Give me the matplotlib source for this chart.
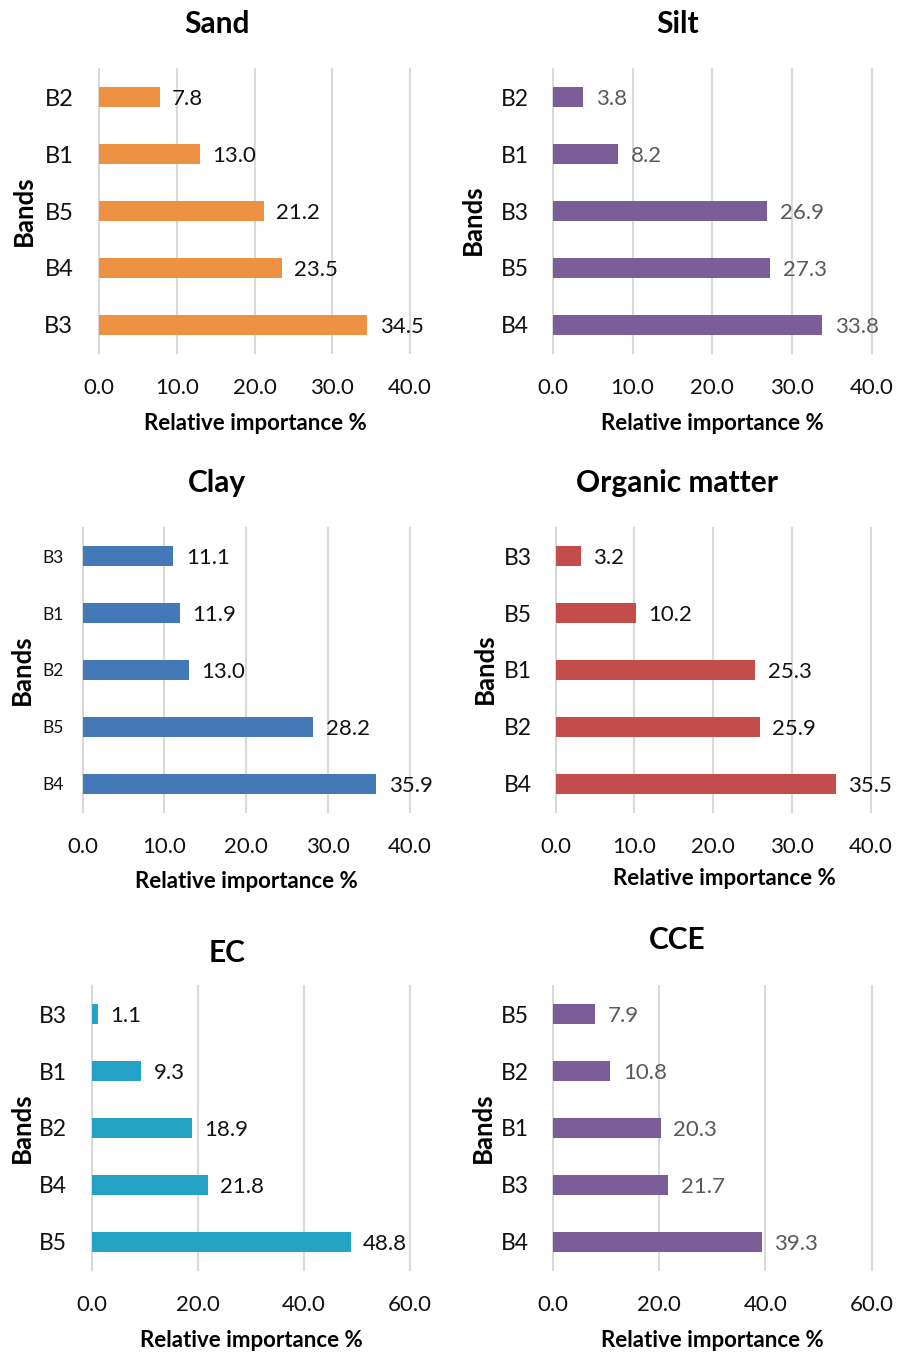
import matplotlib
matplotlib.use("Agg")
import matplotlib.pyplot as plt

plt.rcParams['font.family'] = ['Lato', 'DejaVu Sans']

# relative importance of each Landsat band, listed top to bottom
sand_bands = ["B2", "B1", "B5", "B4", "B3"]
sand_vals = [7.8, 13.0, 21.2, 23.5, 34.5]

silt_bands = ["B2", "B1", "B3", "B5", "B4"]
silt_vals = [3.8, 8.2, 26.9, 27.3, 33.8]

clay_bands = ["B3", "B1", "B2", "B5", "B4"]
clay_vals = [11.1, 11.9, 13.0, 28.2, 35.9]

om_bands = ["B3", "B5", "B1", "B2", "B4"]
om_vals = [3.2, 10.2, 25.3, 25.9, 35.5]

ec_bands = ["B3", "B1", "B2", "B4", "B5"]
ec_vals = [1.1, 9.3, 18.9, 21.8, 48.8]

cce_bands = ["B5", "B2", "B1", "B3", "B4"]
cce_vals = [7.9, 10.8, 20.3, 21.7, 39.3]

W, H = 907, 1354
fig = plt.figure(figsize=(W / 100, H / 100), dpi=100)


def px_axes(x0, x1, top, bottom):
    return fig.add_axes([x0 / W, 1 - bottom / H, (x1 - x0) / W, (bottom - top) / H])


def px_text(x, y, s, **kw):
    fig.text(x / W, 1 - y / H, s, **kw)


panels = [
    # title, bands, values, colour, label colour, xmax, step, axes box, ytick size, ytick pad,
    # title pos, xlabel pos, ylabel pos
    ("Sand", sand_bands, sand_vals, "#ED9243", "#111111", 40, 10, (99, 410, 69, 353), 17, 18.5,
     (216.7, 33.3), (255, 430), (23.5, 211)),
    ("Silt", silt_bands, silt_vals, "#7B5E97", "#595959", 40, 10, (553, 871.5, 69, 353), 16.5, 17.3,
     (677.8, 33.3), (712.5, 430), (473, 220)),
    ("Clay", clay_bands, clay_vals, "#4479B8", "#111111", 40, 10, (82.5, 410, 528, 812), 12.5, 13.7,
     (216.7, 491.7), (246.7, 888.3), (22, 670)),
    ("Organic matter", om_bands, om_vals, "#C24D4B", "#111111", 40, 10, (555.5, 871, 528, 812), 16.5, 17.3,
     (677.5, 491.7), (724.7, 885), (484.5, 669)),
    ("EC", ec_bands, ec_vals, "#24A3C4", "#111111", 60, 20, (92, 410, 986, 1270), 16.5, 18,
     (226.7, 961.7), (251, 1346.7), (22, 1127.5)),
    ("CCE", cce_bands, cce_vals, "#7B5E97", "#595959", 60, 20, (553, 871.5, 986, 1270), 16.5, 17.3,
     (677, 949.3), (712, 1346.7), (483, 1127.5)),
]

for (title, bands, vals, color, lab_color, xmax, step, box, ysize, ypad,
     tpos, xlpos, ylpos) in panels:
    ax = px_axes(*box)
    pos = list(range(len(bands)))
    bars = ax.barh(pos, vals, height=0.35, color=color, zorder=3)
    ax.set_ylim(len(bands) - 0.5, -0.5)
    ax.set_xlim(0, xmax)
    ax.set_xticks(range(0, xmax + 1, step))
    ax.set_xticklabels([f"{t:.1f}" for t in range(0, xmax + 1, step)])
    ax.set_yticks(pos)
    ax.set_yticklabels(bands)
    ax.tick_params(axis='x', length=0, pad=18, labelsize=16, labelcolor='#111111')
    ax.tick_params(axis='y', length=0, pad=ypad, labelsize=ysize, labelcolor='#111111')
    ax.grid(axis='x', color='#D9D9D9', linewidth=1.5, zorder=0)
    ax.grid(axis='y', visible=False)
    for sp in ax.spines.values():
        sp.set_visible(False)
    for gl in ax.get_xgridlines():
        gl.set_clip_on(False)

    for b, v in zip(bars, vals):
        ax.annotate(f"{v:.1f}", xy=(v, b.get_y() + b.get_height() / 2),
                    xytext=(9, -1.5), textcoords='offset points',
                    ha='left', va='center', fontsize=16, color=lab_color)

    px_text(tpos[0], tpos[1], title, ha='center', va='baseline',
            fontsize=21.5, fontweight='bold', color='black')
    px_text(xlpos[0], xlpos[1], "Relative importance %", ha='center', va='baseline',
            fontsize=16, fontweight='bold', color='black')
    px_text(ylpos[0], ylpos[1], "Bands", ha='center', va='center', rotation=90,
            fontsize=18.5, fontweight='bold', color='black')

fig.savefig("out.png", dpi=100)
